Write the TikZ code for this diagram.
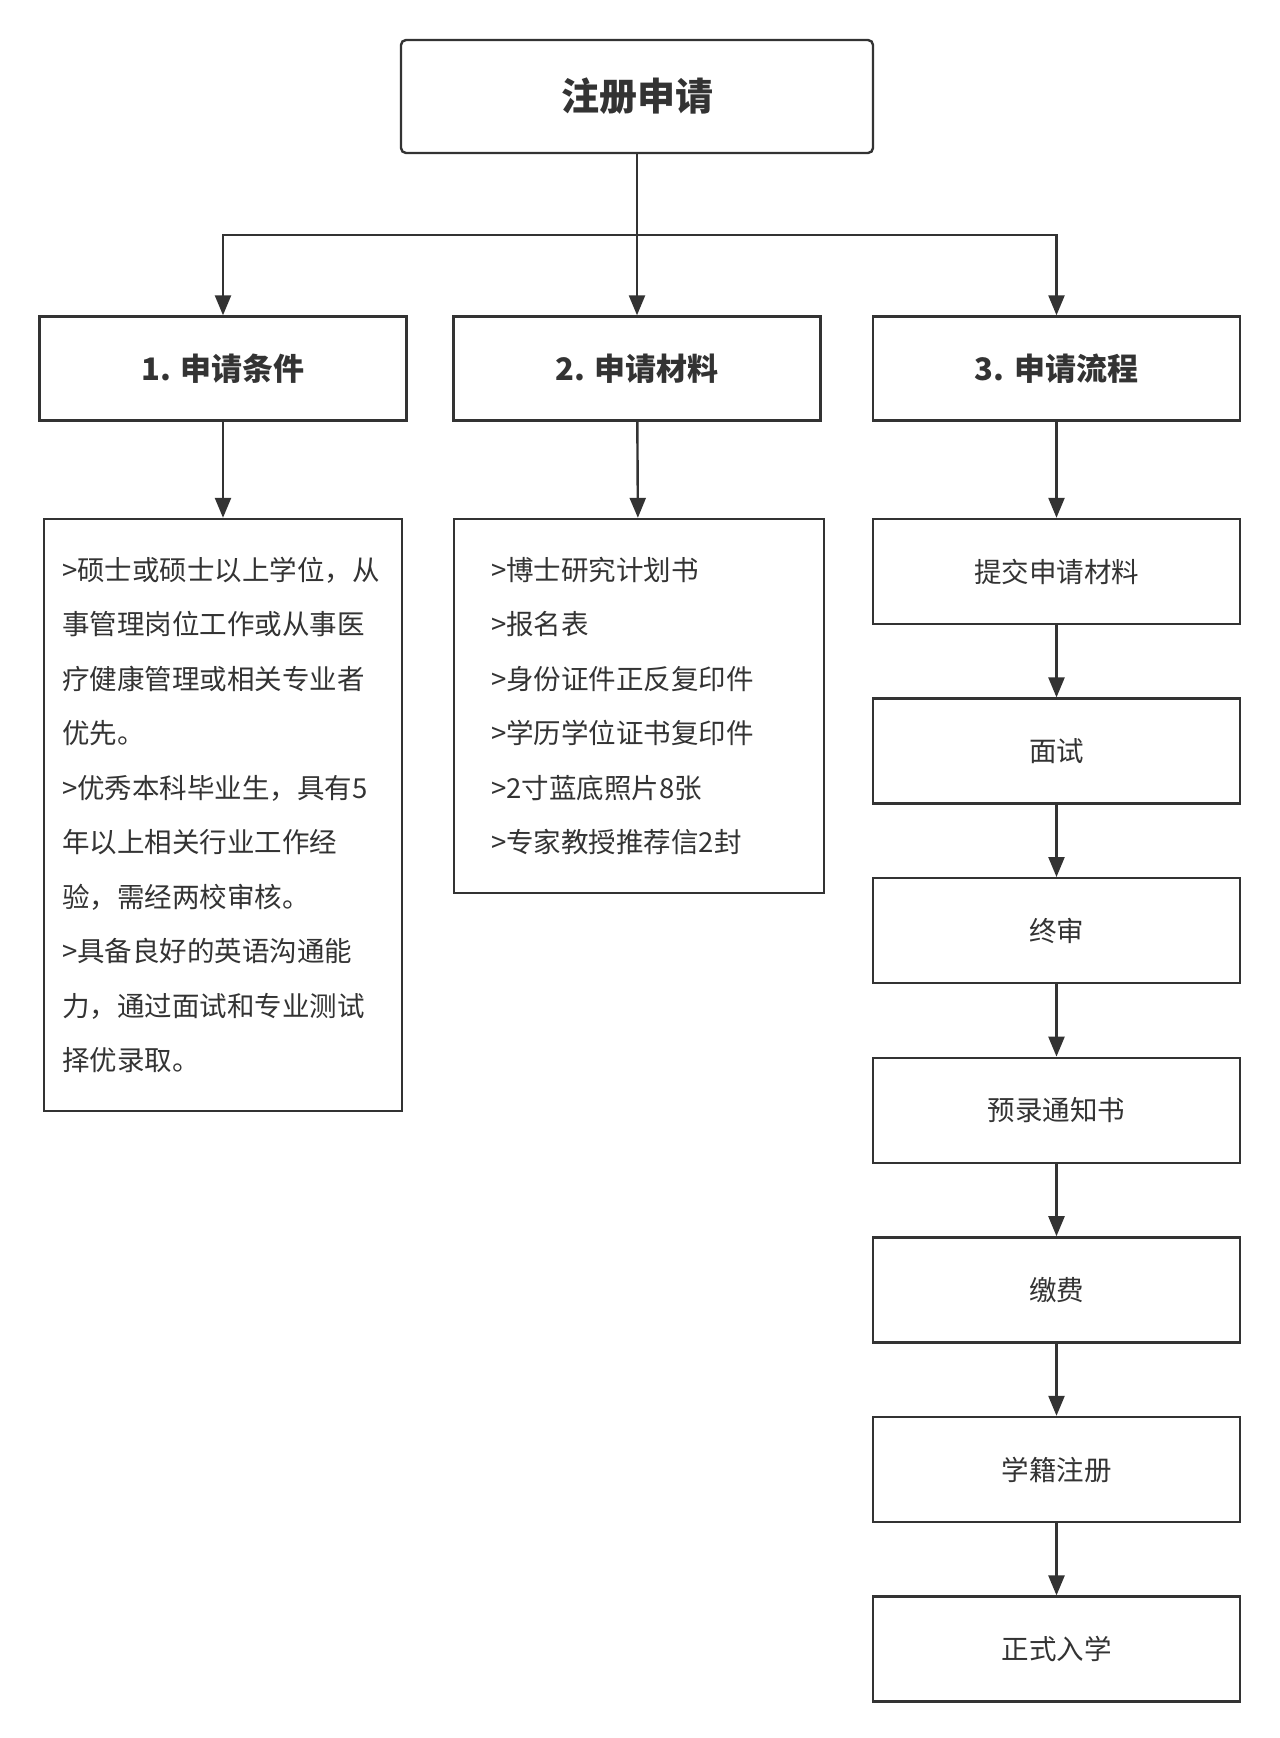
\documentclass[tikz,border=0pt]{standalone}
\usepackage{fontspec}
\setmainfont{Noto Sans CJK SC}
\usetikzlibrary{arrows.meta, positioning}
\definecolor{ink}{HTML}{333333}

\begin{document}
\begin{tikzpicture}[x=1pt, y=-1pt,
    every node/.style={draw=ink, line width=2.4pt, text=ink, inner sep=0pt},
    titlebox/.style={rounded corners=5pt, minimum width=472pt, minimum height=113pt,
        font=\fontsize{38}{44}\selectfont\bfseries},
    headbox/.style={minimum width=367pt, minimum height=104pt,
        font=\fontsize{31}{36}\selectfont\bfseries},
    stepbox/.style={minimum width=367pt, minimum height=105pt,
        font=\fontsize{27.5}{32}\selectfont},
    listbox/.style={align=left, font=\fontsize{27.5}{54.5}\selectfont},
    link/.style={draw=ink, line width=2.4pt, -{Triangle[length=20pt,width=16pt]}},
    node distance=72.2pt]

    \useasboundingbox (0,0) rectangle (1280,1738);

    \node[titlebox] (top) at (637,96.5) {注册申请};

    \node[headbox] (hdr1) at (223,368.5) {1. 申请条件};
    \node[headbox] (hdr2) at (637,368.5) {2. 申请材料};
    \node[headbox] (hdr3) at (1056.5,368.5) {3. 申请流程};

    % 申请条件
    \node[listbox, text width=322pt, inner xsep=18pt, minimum height=592pt]
        (cond) at (223,815) {%
        >硕士或硕士以上学位，从\\
        事管理岗位工作或从事医\\
        疗健康管理或相关专业者\\
        优先。\\
        >优秀本科毕业生，具有5\\
        年以上相关行业工作经\\
        验，需经两校审核。\\
        >具备良好的英语沟通能\\
        力，通过面试和专业测试\\
        择优录取。};

    % 申请材料
    \node[listbox, text width=296pt, inner xsep=37pt, minimum height=374pt]
        (mat) at (639,706) {%
        >博士研究计划书\\
        >报名表\\
        >身份证件正反复印件\\
        >学历学位证书复印件\\
        >2寸蓝底照片8张\\
        >专家教授推荐信2封};

    % 申请流程
    \node[stepbox] (s1) at (1056.5,571.5) {提交申请材料};
    \node[stepbox, below=of s1] (s2) {面试};
    \node[stepbox, below=of s2] (s3) {终审};
    \node[stepbox, below=of s3] (s4) {预录通知书};
    \node[stepbox, below=of s4] (s5) {缴费};
    \node[stepbox, below=of s5] (s6) {学籍注册};
    \node[stepbox, below=of s6] (s7) {正式入学};

    \coordinate (fork) at (637,235);
    \draw[link] (top) -- (hdr2);
    \draw[link] (fork) -| (hdr1.north);
    \draw[link] (fork) -| (hdr3.north);

    \draw[link] (hdr1) -- (cond);
    \draw[link] (hdr2) -- (mat);
    \draw[link] (hdr3) -- (s1);
    \draw[link] (s1) -- (s2);
    \draw[link] (s2) -- (s3);
    \draw[link] (s3) -- (s4);
    \draw[link] (s4) -- (s5);
    \draw[link] (s5) -- (s6);
    \draw[link] (s6) -- (s7);

\end{tikzpicture}
\end{document}
